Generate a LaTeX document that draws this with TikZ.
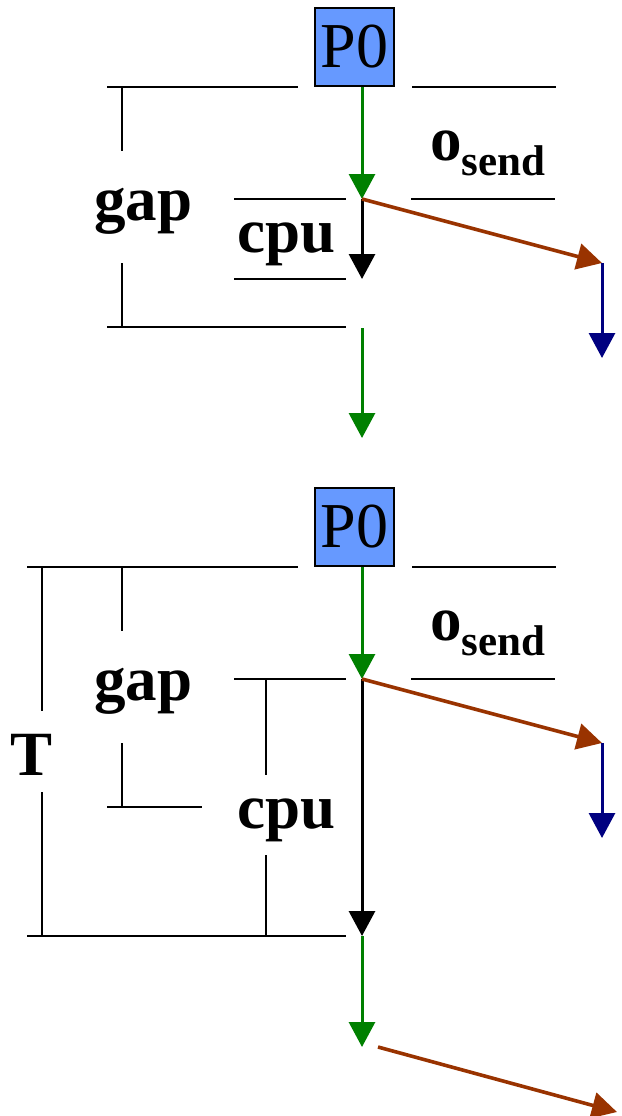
\documentclass[tikz,border=0pt]{standalone}
\usepackage{fontspec}
\setmainfont{Liberation Serif}
\usepackage{xcolor}
\usepackage{tikz}
\usetikzlibrary{arrows.meta}

\definecolor{procblue}{RGB}{102,153,255}
\definecolor{sendbrown}{RGB}{153,51,0}
\definecolor{flowgreen}{RGB}{0,128,0}
\definecolor{recvblue}{RGB}{0,0,128}

\newcommand{\osend}{o\raisebox{-7.5pt}{\fontsize{21.5}{24}\selectfont send}}

\begin{document}
\begin{tikzpicture}[
  x=0.5pt, y=-0.5pt,
  proc/.style={draw, line width=1.2pt, fill=procblue, minimum width=39.5pt, minimum height=39pt, inner sep=0pt, font=\fontsize{32}{36}\selectfont},
  lbl/.style={inner sep=0pt, anchor=base, font=\fontsize{31.5}{36}\selectfont\bfseries},
  rule/.style={line width=1.3pt},
  arr/.style={-{Triangle[width=13pt, length=12.5pt]}, line width=1.5pt},
  sarr/.style={arr, sendbrown, line width=1.8pt}
]
  \useasboundingbox (0,0) rectangle (622,1116);

  % top: gap longer than cpu
  \node[proc] (p1) at (354.5,47) {P0};
  \coordinate (t1) at (362,199);
  \coordinate (b1) at (362,279);
  \coordinate (r1) at (602,263);
  \coordinate (d1) at (602,358);
  \coordinate (n1) at (362,328);
  \coordinate (m1) at (362,438);

  \draw[rule] (107,87) -- (298,87) (412,87) -- (556,87);
  \draw[rule] (122,87) -- (122,151) (122,263) -- (122,327);
  \draw[rule] (107,327) -- (346,327);
  \draw[rule] (234,199) -- (346,199) (234,279) -- (346,279);
  \draw[rule] (411,199) -- (555,199);

  \node[lbl] (gap1) at (143.5,220) {gap};
  \node[lbl] (cpu1) at (287,252) {cpu};
  \node[lbl, anchor=base west] (os1) at (430,160) {\osend};

  \draw[arr, flowgreen] (p1.south -| t1) -- (t1);
  \draw[arr] (t1) -- (b1);
  \draw[sarr] (t1) -- (r1);
  \draw[arr, recvblue] (r1) -- (d1);
  \draw[arr, flowgreen] (n1) -- (m1);

  % bottom: cpu longer than gap
  \node[proc] (p2) at (354.5,527) {P0};
  \coordinate (t2) at (362,679);
  \coordinate (b2) at (362,936);
  \coordinate (r2) at (602,743);
  \coordinate (d2) at (602,838);
  \coordinate (m2) at (362,1047);
  \coordinate (s2) at (378,1047);
  \coordinate (e2) at (617,1112);

  \draw[rule] (27,567) -- (298,567) (412,567) -- (556,567);
  \draw[rule] (42,567) -- (42,711) (42,792) -- (42,936);
  \draw[rule] (27,936) -- (346,936);
  \draw[rule] (122,567) -- (122,631) (122,743) -- (122,807);
  \draw[rule] (107,807) -- (202,807);
  \draw[rule] (234,679) -- (346,679);
  \draw[rule] (266,679) -- (266,775) (266,855) -- (266,936);
  \draw[rule] (411,679) -- (555,679);

  \node[lbl] (T2) at (32,775) {T};
  \node[lbl] (gap2) at (143.5,700) {gap};
  \node[lbl] (cpu2) at (286.5,828) {cpu};
  \node[lbl, anchor=base west] (os2) at (430,640) {\osend};

  \draw[arr, flowgreen] (p2.south -| t2) -- (t2);
  \draw[arr] (t2) -- (b2);
  \draw[sarr] (t2) -- (r2);
  \draw[arr, recvblue] (r2) -- (d2);
  \draw[arr, flowgreen] (b2) -- (m2);
  \draw[sarr] (s2) -- (e2);
\end{tikzpicture}
\end{document}
